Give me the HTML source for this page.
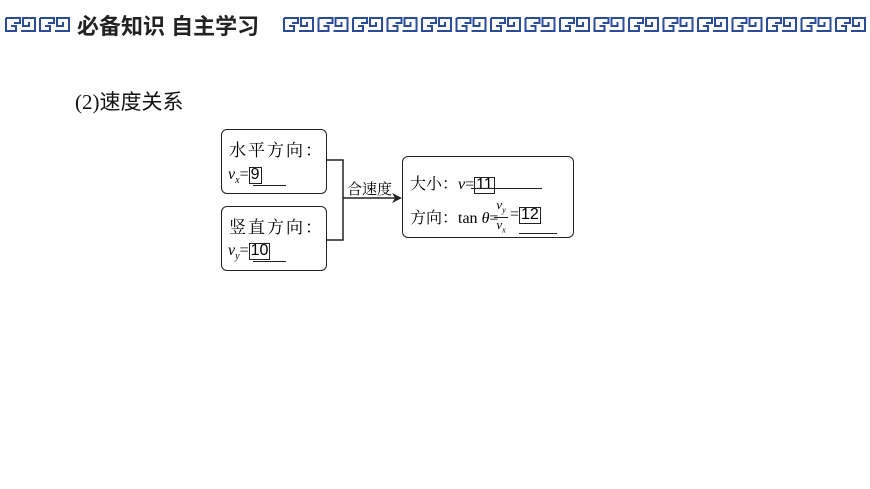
<!DOCTYPE html>
<html><head><meta charset="utf-8"><style>
body{margin:0;width:870px;height:489px;background:#fff;position:relative;overflow:hidden;font-family:"Liberation Serif","Noto Serif CJK SC",serif;}
.a{position:absolute;white-space:nowrap;}
.box{position:absolute;border:1.5px solid #222;border-radius:6px;box-sizing:border-box;}
.n{display:inline-block;border:1.3px solid #222;line-height:14px;height:15px;padding:0 1px;font-size:16px;font-family:"Liberation Sans",sans-serif;}
i{font-style:italic}
</style></head><body>
<svg width="870" height="50" style="position:absolute;left:0;top:0">
<defs>
<g id="t" fill="none" stroke="#2a4c9a" stroke-width="2">
<path d="M1,1 H15 V6 H9 M1,1 V14 H11 V9 H6"/>
<path d="M16,14 H30 V1 H18 V9 H24 V5"/>
</g>
</defs>
<use href="#t" x="5" y="17"/><use href="#t" x="39" y="17"/>
<g id="r">
<use href="#t" x="283" y="17"/><use href="#t" x="317.5" y="17"/><use href="#t" x="352" y="17"/><use href="#t" x="386.5" y="17"/><use href="#t" x="421" y="17"/><use href="#t" x="455.5" y="17"/><use href="#t" x="490" y="17"/><use href="#t" x="524.5" y="17"/><use href="#t" x="559" y="17"/><use href="#t" x="593.5" y="17"/><use href="#t" x="628" y="17"/><use href="#t" x="662.5" y="17"/><use href="#t" x="697" y="17"/><use href="#t" x="731.5" y="17"/><use href="#t" x="766" y="17"/><use href="#t" x="800.5" y="17"/><use href="#t" x="835" y="17"/>
</g>
</svg>
<div class="a" style="left:77px;top:9px;font:bold 22px 'Liberation Sans','Noto Sans CJK SC',sans-serif;color:#222">必备知识 自主学习</div>
<div class="a" style="left:75px;top:86px;font-size:21px;font-family:'Liberation Serif','Noto Sans CJK SC',sans-serif;color:#111">(2)速度关系</div>

<div class="box" style="left:221px;top:129px;width:106px;height:65px"></div>
<div class="a" style="left:229px;top:136px;font-size:17px;letter-spacing:2px">水平方向：</div>
<div class="a" style="left:228px;top:166px;font-size:16px"><i>v<sub style="font-size:10px">x</sub></i>=<span class="n">9</span></div>
<div class="a" style="left:253px;top:185px;width:33px;border-top:1.5px solid #222"></div>

<div class="box" style="left:221px;top:206px;width:106px;height:65px"></div>
<div class="a" style="left:229px;top:213px;font-size:17px;letter-spacing:2px">竖直方向：</div>
<div class="a" style="left:228px;top:242px;font-size:16px"><i>v<sub style="font-size:10px">y</sub></i>=<span class="n">10</span></div>
<div class="a" style="left:253px;top:261px;width:33px;border-top:1.5px solid #222"></div>

<svg width="870" height="489" style="position:absolute;left:0;top:0">
<path d="M327,160 H343 V240 H327 M343,198 H398" fill="none" stroke="#222" stroke-width="1.5"/>
<path d="M402,198 L392,193 L395,198 L392,203 Z" fill="#222"/>
</svg>
<div class="a" style="left:347px;top:178px;font-size:15px">合速度</div>

<div class="box" style="left:402px;top:156px;width:172px;height:82px"></div>
<div class="a" style="left:410px;top:171px;font-size:16px">大小：<i>v</i>=<span class="n">11</span></div>
<div class="a" style="left:471px;top:188px;width:71px;border-top:1.5px solid #222"></div>
<div class="a" style="left:410px;top:205px;font-size:16px">方向：tan <i>θ</i>=</div>
<div class="a" style="left:494px;top:198px;font-size:13px;text-align:center;width:14px;line-height:13px"><i>v<sub style="font-size:8px">y</sub></i><div style="border-top:1px solid #222"></div><i>v<sub style="font-size:8px">x</sub></i></div>
<div class="a" style="left:510px;top:206px;font-size:16px">=<span class="n">12</span></div>
<div class="a" style="left:519px;top:233px;width:38px;border-top:1.5px solid #222"></div>
</body></html>
